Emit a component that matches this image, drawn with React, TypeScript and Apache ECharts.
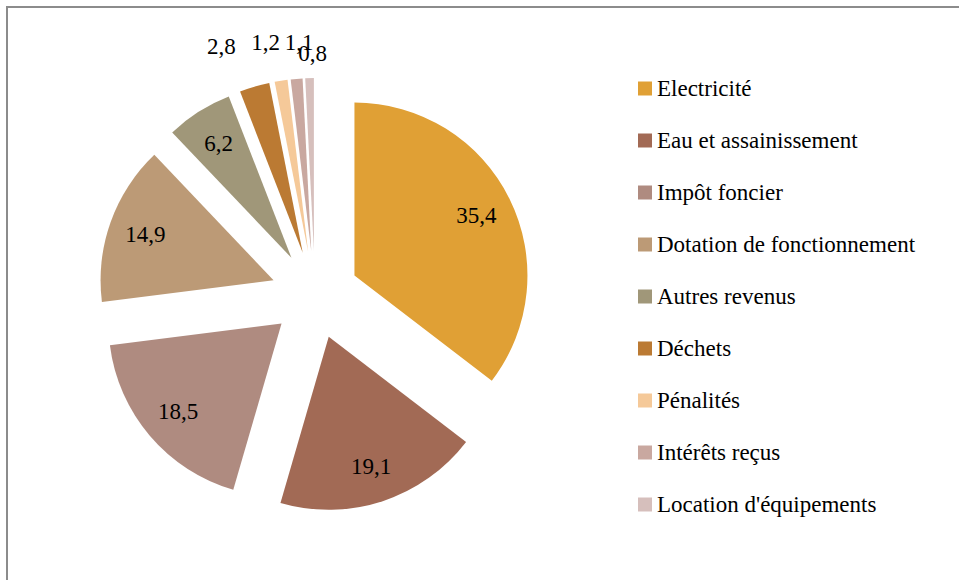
import React, { useEffect, useRef } from 'react';
import * as echarts from 'echarts';

const categories = [
  'Electricité',
  'Eau et assainissement',
  'Impôt foncier',
  'Dotation de fonctionnement',
  'Autres revenus',
  'Déchets',
  'Pénalités',
  'Intérêts reçus',
  "Location d'équipements",
];
const values = [35.4, 19.1, 18.5, 14.9, 6.2, 2.8, 1.2, 1.1, 0.8];
const colors = ['#E0A035', '#A26A55', '#AF8B80', '#BC9A76', '#A09779', '#BB7A33', '#F5C999', '#C9A8A0', '#D6BFBC'];

// label placement for thin slices (outside): [labelLine length, length2]
const outsideLabel: Record<number, [number, number]> = {
  5: [42, 7],
  6: [39, -5],
  7: [36, -20],
  8: [25, -18],
};

const FONT = 'Liberation Serif';
const FONT_SIZE = 23;
const fmt = (v: number) => v.toFixed(1).replace('.', ',');

export default function App() {
  const ref = useRef<HTMLDivElement>(null);
  useEffect(() => {
    if (!ref.current) return;
    const chart = echarts.init(ref.current, undefined, { renderer: 'svg' });
    const center = [315, 295];
    const mainData = categories.map((name, i) => ({
      name,
      value: values[i],
      selected: true,
      itemStyle: { color: colors[i] },
    }));
    const labelData = categories.map((name, i) => {
      const o = outsideLabel[i];
      return {
        name,
        value: values[i],
        selected: true,
        itemStyle: { color: 'transparent' },
        label: o
          ? { position: 'outside', distanceToLabelLine: 0 }
          : { position: 'inside' },
        labelLine: o ? { show: false, length: o[0], length2: o[1] } : { show: false },
      };
    });
    chart.setOption({
      animation: false,
      backgroundColor: '#fff',
      graphic: [
        {
          type: 'rect',
          shape: { x: 7, y: 7, width: 1000, height: 620 },
          style: { fill: 'none', stroke: '#8c8c8c', lineWidth: 2 },
          silent: true,
        },
      ],
      legend: {
        orient: 'vertical',
        left: 638,
        top: 77,
        padding: 0,
        itemWidth: 14,
        itemHeight: 14,
        itemGap: 29,
        icon: 'rect',
        selectedMode: false,
        data: categories,
        textStyle: { fontFamily: FONT, fontSize: FONT_SIZE, color: '#000' },
      },
      series: [
        {
          type: 'pie',
          center,
          radius: 173,
          startAngle: 90,
          clockwise: true,
          selectedMode: 'multiple',
          selectedOffset: 44,
          avoidLabelOverlap: false,
          label: { show: false },
          labelLine: { show: false },
          itemStyle: { borderWidth: 0 },
          emphasis: { disabled: true },
          silent: true,
          data: mainData,
        },
        {
          type: 'pie',
          center,
          radius: [93, 173],
          startAngle: 90,
          clockwise: true,
          selectedMode: 'multiple',
          selectedOffset: 44,
          avoidLabelOverlap: false,
          silent: true,
          emphasis: { disabled: true },
          label: {
            show: true,
            formatter: (p: any) => fmt(p.value),
            fontFamily: FONT,
            fontSize: FONT_SIZE,
            color: '#000',
          },
          labelLine: { show: false },
          labelLayout: { hideOverlap: false },
          data: labelData,
        },
      ],
    });
    return () => chart.dispose();
  }, []);
  return (
    <div
      ref={ref}
      style={{ position: 'fixed', left: 0, top: 0, width: 959, height: 580 }}
    />
  );
}
